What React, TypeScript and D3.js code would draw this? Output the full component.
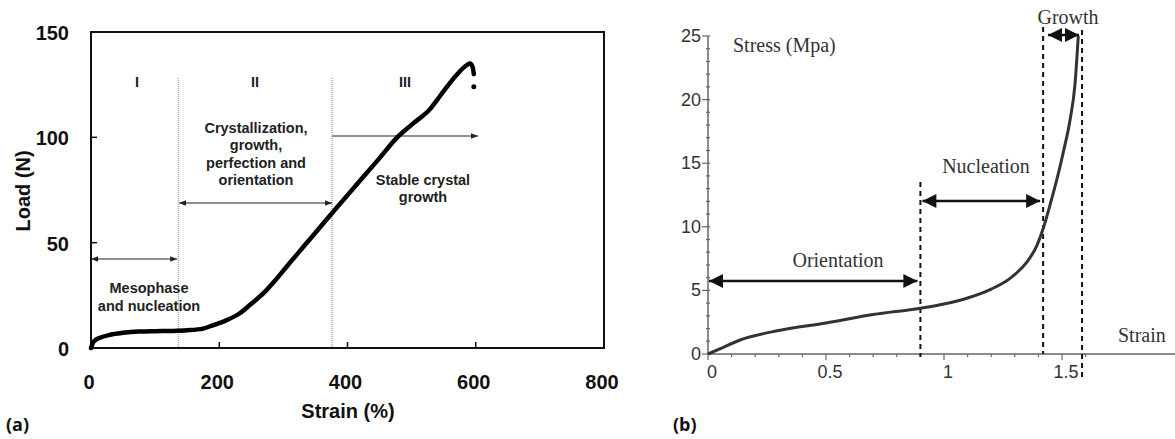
import { useRef, useEffect } from "react";
import * as d3 from "d3";

// panel (a): load vs strain
const strainA = [0, 3, 8, 15, 30, 50, 75, 100, 125, 150, 175, 191, 210, 232, 250, 269, 287, 305, 336, 373, 414, 451, 476, 502, 529, 544, 570, 586, 591, 595, 597];
const loadA = [0, 2.5, 4, 5, 6.3, 7.2, 7.8, 8, 8.1, 8.4, 9.2, 10.9, 13, 16.5, 21, 26, 32, 38.6, 49.7, 63, 77.5, 90.5, 99.5, 106.5, 113.5, 119.5, 129.6, 134.3, 135, 133.5, 130];
const endDotA = [597, 124];
const ticksXA = [0, 200, 400, 600, 800];
const ticksYA = [0, 50, 100, 150];
const regionLinesA = [136, 376];

// panel (b): stress vs strain
const strainB = [0, 0.05, 0.136, 0.3, 0.5, 0.7, 0.9, 1.0, 1.1, 1.2, 1.28, 1.35, 1.393, 1.421, 1.449, 1.478, 1.506, 1.534, 1.555, 1.569];
const stressB = [0, 0.4, 1.1, 1.85, 2.44, 3.1, 3.6, 3.93, 4.4, 5.1, 5.95, 7.2, 8.5, 9.9, 11.7, 13.7, 15.9, 18.4, 21.2, 25];
const ticksXB = [0, 0.5, 1, 1.5];
const ticksYB = [0, 5, 10, 15, 20, 25];
const stageLinesB = [0.9, 1.42, 1.585];

export default function App() {
  const ref = useRef<SVGSVGElement>(null);

  useEffect(() => {
    const svg = d3.select(ref.current);
    svg.selectAll("*").remove();

    const defs = svg.append("defs");
    defs.append("marker").attr("id", "thinArr").attr("viewBox", "0 0 10 10").attr("refX", 10).attr("refY", 5)
      .attr("markerWidth", 7).attr("markerHeight", 7).attr("markerUnits", "userSpaceOnUse").attr("orient", "auto-start-reverse")
      .append("path").attr("d", "M0,1 L10,5 L0,9 Z").attr("fill", "#222");
    defs.append("marker").attr("id", "boldArr").attr("viewBox", "0 0 10 10").attr("refX", 10).attr("refY", 5)
      .attr("markerWidth", 16).attr("markerHeight", 14).attr("markerUnits", "userSpaceOnUse").attr("orient", "auto-start-reverse")
      .append("path").attr("d", "M0,0 L10,5 L0,10 Z").attr("fill", "#111");

    // ---------- (a) ----------
    const sans = "'Liberation Sans', Arial, sans-serif";
    const xA = d3.scaleLinear().domain([0, 800]).range([91, 604]);
    const yA = d3.scaleLinear().domain([0, 150]).range([348, 32]);
    const a = svg.append("g");

    a.append("rect").attr("x", xA(0)).attr("y", yA(150)).attr("width", xA(800) - xA(0)).attr("height", yA(0) - yA(150))
      .attr("fill", "none").attr("stroke", "#111").attr("stroke-width", 2);

    ticksXA.forEach((t) => {
      a.append("line").attr("x1", xA(t)).attr("x2", xA(t)).attr("y1", yA(0)).attr("y2", yA(0) - 6).attr("stroke", "#111").attr("stroke-width", 1.5);
      a.append("text").attr("x", xA(t) - 2).attr("y", 389).attr("text-anchor", "middle").attr("font-family", sans)
        .attr("font-weight", "bold").attr("font-size", 20).attr("fill", "#111").text(t);
    });
    ticksYA.forEach((t) => {
      a.append("line").attr("x1", xA(0)).attr("x2", xA(0) + 6).attr("y1", yA(t)).attr("y2", yA(t)).attr("stroke", "#111").attr("stroke-width", 1.5);
      a.append("text").attr("x", 69).attr("y", yA(t) + 8).attr("text-anchor", "end").attr("font-family", sans)
        .attr("font-weight", "bold").attr("font-size", 20).attr("fill", "#111").text(t);
    });
    a.append("text").attr("x", 348).attr("y", 418).attr("text-anchor", "middle").attr("font-family", sans)
      .attr("font-weight", "bold").attr("font-size", 20).attr("fill", "#111").text("Strain (%)");
    a.append("text").attr("transform", "translate(30,191) rotate(-90)").attr("text-anchor", "middle").attr("font-family", sans)
      .attr("font-weight", "bold").attr("font-size", 20).attr("fill", "#111").text("Load (N)");

    regionLinesA.forEach((v) => {
      a.append("line").attr("x1", xA(v)).attr("x2", xA(v)).attr("y1", 78).attr("y2", yA(0)).attr("stroke", "#888")
        .attr("stroke-width", 1).attr("stroke-dasharray", "1,1");
    });

    const boldLbl = (g: any, x: number, y: number, s: string) =>
      g.append("text").attr("x", x).attr("y", y).attr("text-anchor", "middle").attr("font-family", sans)
        .attr("font-weight", "bold").attr("font-size", 14.5).attr("fill", "#222").text(s);
    boldLbl(a, 137, 87, "I");
    boldLbl(a, 255, 87, "II");
    boldLbl(a, 405, 87, "III");
    ["Crystallization,", "growth,", "perfection and", "orientation"].forEach((s, i) => boldLbl(a, 256, 133 + i * 17.3, s));
    ["Stable crystal", "growth"].forEach((s, i) => boldLbl(a, 423, 185 + i * 17, s));
    ["Mesophase", "and nucleation"].forEach((s, i) => boldLbl(a, 149, 293 + i * 18, s));

    const thinArrow = (x1: number, x2: number, y: number, both: boolean) => {
      const l = a.append("line").attr("x1", x1).attr("x2", x2).attr("y1", y).attr("y2", y).attr("stroke", "#222")
        .attr("stroke-width", 1).attr("marker-end", "url(#thinArr)");
      if (both) l.attr("marker-start", "url(#thinArr)");
    };
    thinArrow(xA(0), xA(136) - 1, 259, true);
    thinArrow(xA(136) + 1, xA(376), 203, true);
    thinArrow(xA(376), 478, 136, false);

    const lineA = d3.line<number>().x((d, i) => xA(strainA[i])).y((d) => yA(d)).curve(d3.curveMonotoneX);
    a.append("path").attr("d", lineA(loadA)).attr("fill", "none").attr("stroke", "#000").attr("stroke-width", 4.5)
      .attr("stroke-linecap", "round").attr("stroke-linejoin", "round");
    a.append("circle").attr("cx", xA(endDotA[0])).attr("cy", yA(endDotA[1])).attr("r", 2.5).attr("fill", "#000");

    a.append("text").attr("x", 6).attr("y", 431).attr("font-family", "'Open Sans', 'Liberation Sans', sans-serif")
      .attr("font-weight", "bold").attr("font-size", 18).attr("fill", "#111").text("(a)");

    // ---------- (b) ----------
    const serif = "'Liberation Serif', 'Times New Roman', serif";
    const xB = d3.scaleLinear().domain([0, 1]).range([708, 944]);
    const yB = d3.scaleLinear().domain([0, 25]).range([354, 36]);
    const b = svg.append("g");
    const axisCol = "#666";

    b.append("line").attr("x1", xB(0)).attr("x2", 1175).attr("y1", yB(0)).attr("y2", yB(0)).attr("stroke", axisCol).attr("stroke-width", 1.5);
    b.append("line").attr("x1", xB(0)).attr("x2", xB(0)).attr("y1", yB(0)).attr("y2", yB(25)).attr("stroke", axisCol).attr("stroke-width", 1.5);

    d3.range(0, 1.61, 0.1).forEach((t) => {
      const major = Math.abs(t * 2 - Math.round(t * 2)) < 1e-6;
      b.append("line").attr("x1", xB(t)).attr("x2", xB(t)).attr("y1", yB(0)).attr("y2", yB(0) + (major ? 6 : 3))
        .attr("stroke", axisCol).attr("stroke-width", 1.2);
    });
    d3.range(0, 25.5, 1).forEach((t) => {
      const major = t % 5 === 0;
      b.append("line").attr("x1", xB(0) - (major ? 6 : 2)).attr("x2", xB(0) + 2).attr("y1", yB(t)).attr("y2", yB(t))
        .attr("stroke", axisCol).attr("stroke-width", 1.2);
    });
    ticksXB.forEach((t) => {
      b.append("text").attr("x", xB(t) + 4).attr("y", 378).attr("text-anchor", "middle").attr("font-family", sans)
        .attr("font-size", 18).attr("fill", "#333").text(t);
    });
    ticksYB.forEach((t) => {
      b.append("text").attr("x", 701).attr("y", yB(t) + 6).attr("text-anchor", "end").attr("font-family", sans)
        .attr("font-size", 18).attr("fill", "#333").text(t);
    });
    b.append("text").attr("x", 733).attr("y", 52).attr("font-family", serif).attr("font-size", 20).attr("fill", "#333").text("Stress (Mpa)");
    b.append("text").attr("x", 1118).attr("y", 342).attr("font-family", serif).attr("font-size", 20).attr("fill", "#333").text("Strain");

    const stageTops = [182, 27, 30];
    const stageBottoms = [357, 354, 378];
    stageLinesB.forEach((v, i) => {
      b.append("line").attr("x1", xB(v)).attr("x2", xB(v)).attr("y1", stageTops[i]).attr("y2", stageBottoms[i])
        .attr("stroke", "#111").attr("stroke-width", 2).attr("stroke-dasharray", "5,4");
    });

    const boldArrow = (x1: number, x2: number, y: number) => {
      b.append("line").attr("x1", x1).attr("x2", x2).attr("y1", y).attr("y2", y).attr("stroke", "#111")
        .attr("stroke-width", 2.5).attr("marker-start", "url(#boldArr)").attr("marker-end", "url(#boldArr)");
    };
    boldArrow(xB(0) + 1, xB(0.9) - 3, 281);
    boldArrow(xB(0.9) + 2, xB(1.42) - 3, 201);
    boldArrow(1048, 1079, 35);

    b.append("text").attr("x", 838).attr("y", 267).attr("text-anchor", "middle").attr("font-family", serif).attr("font-size", 20).attr("fill", "#333").text("Orientation");
    b.append("text").attr("x", 986).attr("y", 173).attr("text-anchor", "middle").attr("font-family", serif).attr("font-size", 20).attr("fill", "#333").text("Nucleation");
    b.append("text").attr("x", 1068).attr("y", 24).attr("text-anchor", "middle").attr("font-family", serif).attr("font-size", 20).attr("fill", "#333").text("Growth");

    const lineB = d3.line<number>().x((d, i) => xB(strainB[i])).y((d) => yB(d)).curve(d3.curveMonotoneX);
    b.append("path").attr("d", lineB(stressB)).attr("fill", "none").attr("stroke", "#333").attr("stroke-width", 3);

    b.append("text").attr("x", 673).attr("y", 431).attr("font-family", "'Open Sans', 'Liberation Sans', sans-serif")
      .attr("font-weight", "bold").attr("font-size", 18).attr("fill", "#111").text("(b)");
  }, []);

  return (
    <svg ref={ref} width={1175} height={439} style={{ position: "absolute", left: 0, top: 0, background: "#fff" }} />
  );
}
